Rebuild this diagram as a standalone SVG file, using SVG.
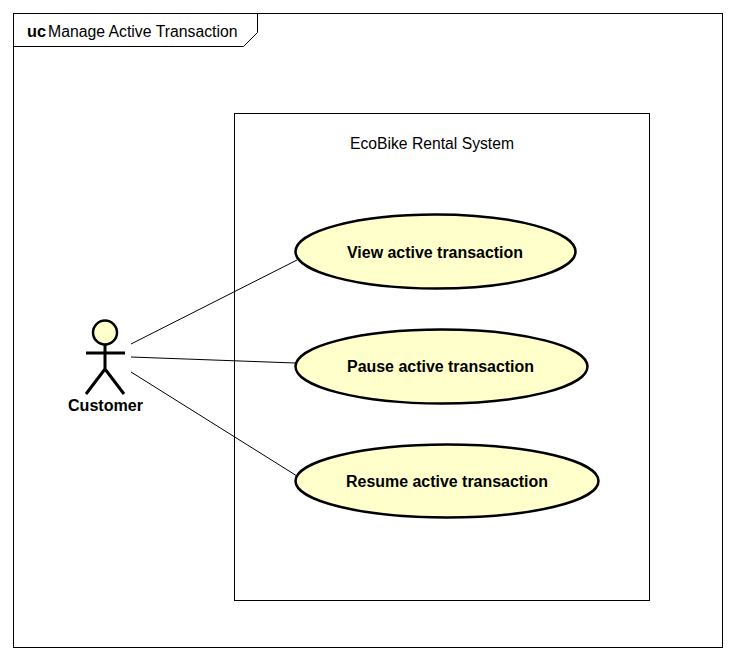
<svg xmlns="http://www.w3.org/2000/svg" width="736" height="660" viewBox="0 0 736 660">
<style>
.f{fill:none;stroke:#000;stroke-width:1}
.u{fill:#ffffcc;stroke:#000;stroke-width:2.5}
.a{fill:none;stroke:#000;stroke-width:3}
.t{font-family:"Liberation Sans",Arial,sans-serif;font-size:16px;fill:#000}
.b{font-family:"Liberation Sans",Arial,sans-serif;font-size:16px;font-weight:bold;fill:#000}
</style>
<rect width="736" height="660" fill="#fff"/>
<g id="frame">
<rect class="f" x="13.5" y="13.500" width="709" height="634"/>
<path class="f" d="M13.5 46.500H243.500L257.500 32.500V13.500"/>
<text class="b" x="27" y="37" textLength="19" lengthAdjust="spacingAndGlyphs">uc</text>
<text class="t" x="48" y="37" textLength="189.500" lengthAdjust="spacingAndGlyphs">Manage Active Transaction</text>
</g>
<g id="system">
<rect class="f" x="234.500" y="113.500" width="415" height="487"/>
<text class="t" x="350" y="149" textLength="164" lengthAdjust="spacingAndGlyphs">EcoBike Rental System</text>
</g>
<g id="connectors">
<line class="f" x1="131" y1="344" x2="297" y2="260"/>
<line class="f" x1="131" y1="357" x2="295" y2="363"/>
<line class="f" x1="131" y1="372" x2="297" y2="476"/>
</g>
<g id="customer">
<circle class="u" cx="105" cy="332.500" r="12"/>
<path class="a" d="M105 345V369M86 353H125M105 369L86 394M105 369L124 394"/>
<text class="b" x="68" y="411" textLength="75" lengthAdjust="spacingAndGlyphs">Customer</text>
</g>
<g id="uc-view">
<ellipse class="u" cx="435.500" cy="251.500" rx="140" ry="37"/>
<text class="b" x="347" y="257.500" textLength="176" lengthAdjust="spacingAndGlyphs">View active transaction</text>
</g>
<g id="uc-pause">
<ellipse class="u" cx="441.500" cy="366.500" rx="146" ry="37"/>
<text class="b" x="347" y="372" textLength="187" lengthAdjust="spacingAndGlyphs">Pause active transaction</text>
</g>
<g id="uc-resume">
<ellipse class="u" cx="447" cy="481" rx="151.500" ry="36.500"/>
<text class="b" x="346" y="487" textLength="202" lengthAdjust="spacingAndGlyphs">Resume active transaction</text>
</g>
</svg>
